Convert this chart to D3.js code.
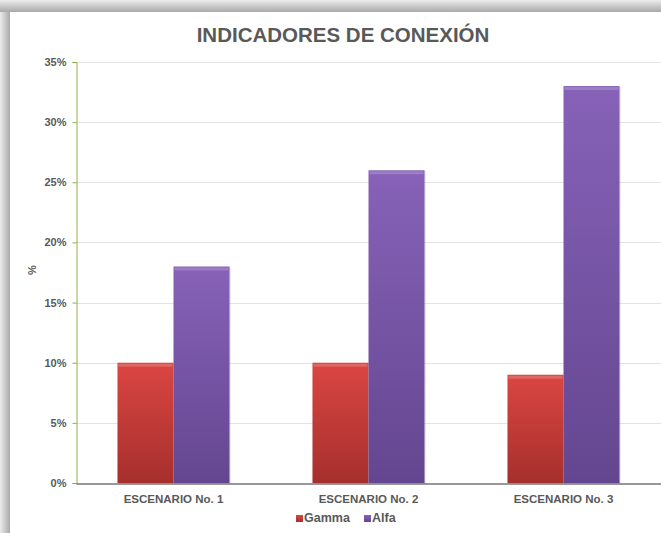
<!DOCTYPE html>
<html>
<head>
<meta charset="utf-8">
<script src="https://cdn.jsdelivr.net/npm/d3@7"></script>
<style>
  body { margin: 0; background: #fff; }
  svg { display: block; font-family: "Liberation Sans", Arial, sans-serif; }
</style>
</head>
<body>
<div id="chart"></div>
<script>
// Chart data
const categories = ['ESCENARIO No. 1', 'ESCENARIO No. 2', 'ESCENARIO No. 3'];
const seriesNames = ['Gamma', 'Alfa'];
const gammaValues = [10, 10, 9];
const alfaValues = [18, 26, 33];
const yTicks = [0, 5, 10, 15, 20, 25, 30, 35];

const width = 661;
const height = 533;
const margin = { top: 62, right: 0, bottom: 50, left: 76 };

const svg = d3.select('#chart')
  .append('svg')
  .attr('width', width)
  .attr('height', height);

const defs = svg.append('defs');

// frame shadow on the left and top
const shadowLeft = defs.append('linearGradient').attr('id', 'shadow-left')
  .attr('x1', 0).attr('x2', 1).attr('y1', 0).attr('y2', 0);
shadowLeft.append('stop').attr('offset', '0%').attr('stop-color', '#ececec');
shadowLeft.append('stop').attr('offset', '100%').attr('stop-color', '#a9a9a9');

const shadowTop = defs.append('linearGradient').attr('id', 'shadow-top')
  .attr('x1', 0).attr('x2', 0).attr('y1', 0).attr('y2', 1);
shadowTop.append('stop').attr('offset', '0%').attr('stop-color', '#ececec');
shadowTop.append('stop').attr('offset', '100%').attr('stop-color', '#a9a9a9');

svg.append('rect').attr('x', 0).attr('y', 0).attr('width', 10).attr('height', height)
  .attr('fill', 'url(#shadow-left)');
svg.append('rect').attr('x', 0).attr('y', 0).attr('width', width).attr('height', 12)
  .attr('fill', 'url(#shadow-top)');
svg.append('rect').attr('x', 10).attr('y', 12).attr('width', width - 10).attr('height', height - 12)
  .attr('fill', '#fff');

// bar gradients
const barColors = {
  Gamma: ['#da4642', '#a62f2c'],
  Alfa: ['#8762b8', '#644690']
};
seriesNames.forEach(name => {
  const g = defs.append('linearGradient').attr('id', 'grad-' + name)
    .attr('x1', 0).attr('x2', 0).attr('y1', 0).attr('y2', 1);
  g.append('stop').attr('offset', '0%').attr('stop-color', barColors[name][0]);
  g.append('stop').attr('offset', '100%').attr('stop-color', barColors[name][1]);
});

const innerBottom = height - margin.bottom;

const y = d3.scaleLinear()
  .domain([0, 35])
  .range([innerBottom, margin.top]);

const x0 = d3.scaleBand()
  .domain(categories)
  .range([margin.left, width - margin.right])
  .paddingInner(0)
  .paddingOuter(0);

const x1 = d3.scaleBand()
  .domain(seriesNames)
  .range([0, x0.bandwidth()])
  .paddingOuter(0.74)
  .paddingInner(0);

// gridlines
svg.append('g')
  .selectAll('line')
  .data(yTicks.filter(d => d > 0))
  .join('line')
  .attr('x1', margin.left)
  .attr('x2', width)
  .attr('y1', d => Math.round(y(d)) + 0.5)
  .attr('y2', d => Math.round(y(d)) + 0.5)
  .attr('stroke', '#e3e3e3')
  .attr('stroke-width', 1);

// bars
const rows = categories.map((c, i) => ({ category: c, Gamma: gammaValues[i], Alfa: alfaValues[i] }));

const groups = svg.append('g')
  .selectAll('g')
  .data(rows)
  .join('g')
  .attr('transform', d => `translate(${x0(d.category)},0)`);

const bars = groups.selectAll('g')
  .data(d => seriesNames.map(name => ({ name, value: d[name] })))
  .join('g');

bars.append('rect')
  .attr('x', d => x1(d.name) + 1.5)
  .attr('y', d => y(d.value) + 1)
  .attr('width', x1.bandwidth())
  .attr('height', d => innerBottom - y(d.value))
  .attr('fill', '#000')
  .attr('opacity', 0.08);

bars.append('rect')
  .attr('x', d => x1(d.name))
  .attr('y', d => y(d.value))
  .attr('width', x1.bandwidth())
  .attr('height', d => innerBottom - y(d.value))
  .attr('fill', d => `url(#grad-${d.name})`);

// bevel highlight on top
bars.append('rect')
  .attr('x', d => x1(d.name) + 1)
  .attr('y', d => y(d.value) + 1)
  .attr('width', x1.bandwidth() - 2)
  .attr('height', 3)
  .attr('fill', '#fff')
  .attr('opacity', 0.18);

// y axis
const yAxis = svg.append('g')
  .attr('transform', `translate(${margin.left + 0.5},0)`)
  .call(d3.axisLeft(y).tickValues(yTicks).tickFormat(d => d + '%').tickSize(4).tickPadding(6));
yAxis.select('.domain').attr('stroke', '#8db04a');
yAxis.selectAll('.tick line').attr('stroke', '#8db04a');
yAxis.selectAll('text')
  .attr('fill', '#595959')
  .attr('font-size', 11)
  .attr('font-weight', 'bold')
  .attr('font-family', '"Liberation Sans", Arial, sans-serif');

// x axis
const xAxis = svg.append('g')
  .attr('transform', `translate(0,${innerBottom + 0.5})`)
  .call(d3.axisBottom(x0).tickSize(0).tickPadding(11));
xAxis.select('.domain').attr('stroke', '#333');
xAxis.selectAll('text')
  .attr('fill', '#595959')
  .attr('font-size', 11.5)
  .attr('font-weight', 'bold')
  .attr('font-family', '"Liberation Sans", Arial, sans-serif');

// y title
svg.append('text')
  .attr('transform', 'translate(36,270) rotate(-90)')
  .attr('text-anchor', 'middle')
  .attr('fill', '#595959')
  .attr('font-size', 11)
  .attr('font-weight', 'bold')
  .text('%');

// chart title
svg.append('text')
  .attr('x', 343)
  .attr('y', 42)
  .attr('text-anchor', 'middle')
  .attr('fill', '#595959')
  .attr('font-size', 20.5)
  .attr('font-weight', 'bold')
  .text('INDICADORES DE CONEXIÓN');

// legend
const legendItems = [
  { name: 'Gamma', x: 296 },
  { name: 'Alfa', x: 364 }
];
const legend = svg.append('g')
  .selectAll('g')
  .data(legendItems)
  .join('g')
  .attr('transform', d => `translate(${d.x},521)`);
legend.append('rect')
  .attr('x', 0)
  .attr('y', -6)
  .attr('width', 7)
  .attr('height', 7)
  .attr('fill', d => `url(#grad-${d.name})`);
legend.append('text')
  .attr('x', 8)
  .attr('y', 1)
  .attr('fill', '#595959')
  .attr('font-size', 12.5)
  .attr('font-weight', 'bold')
  .text(d => d.name);
</script>
</body>
</html>
